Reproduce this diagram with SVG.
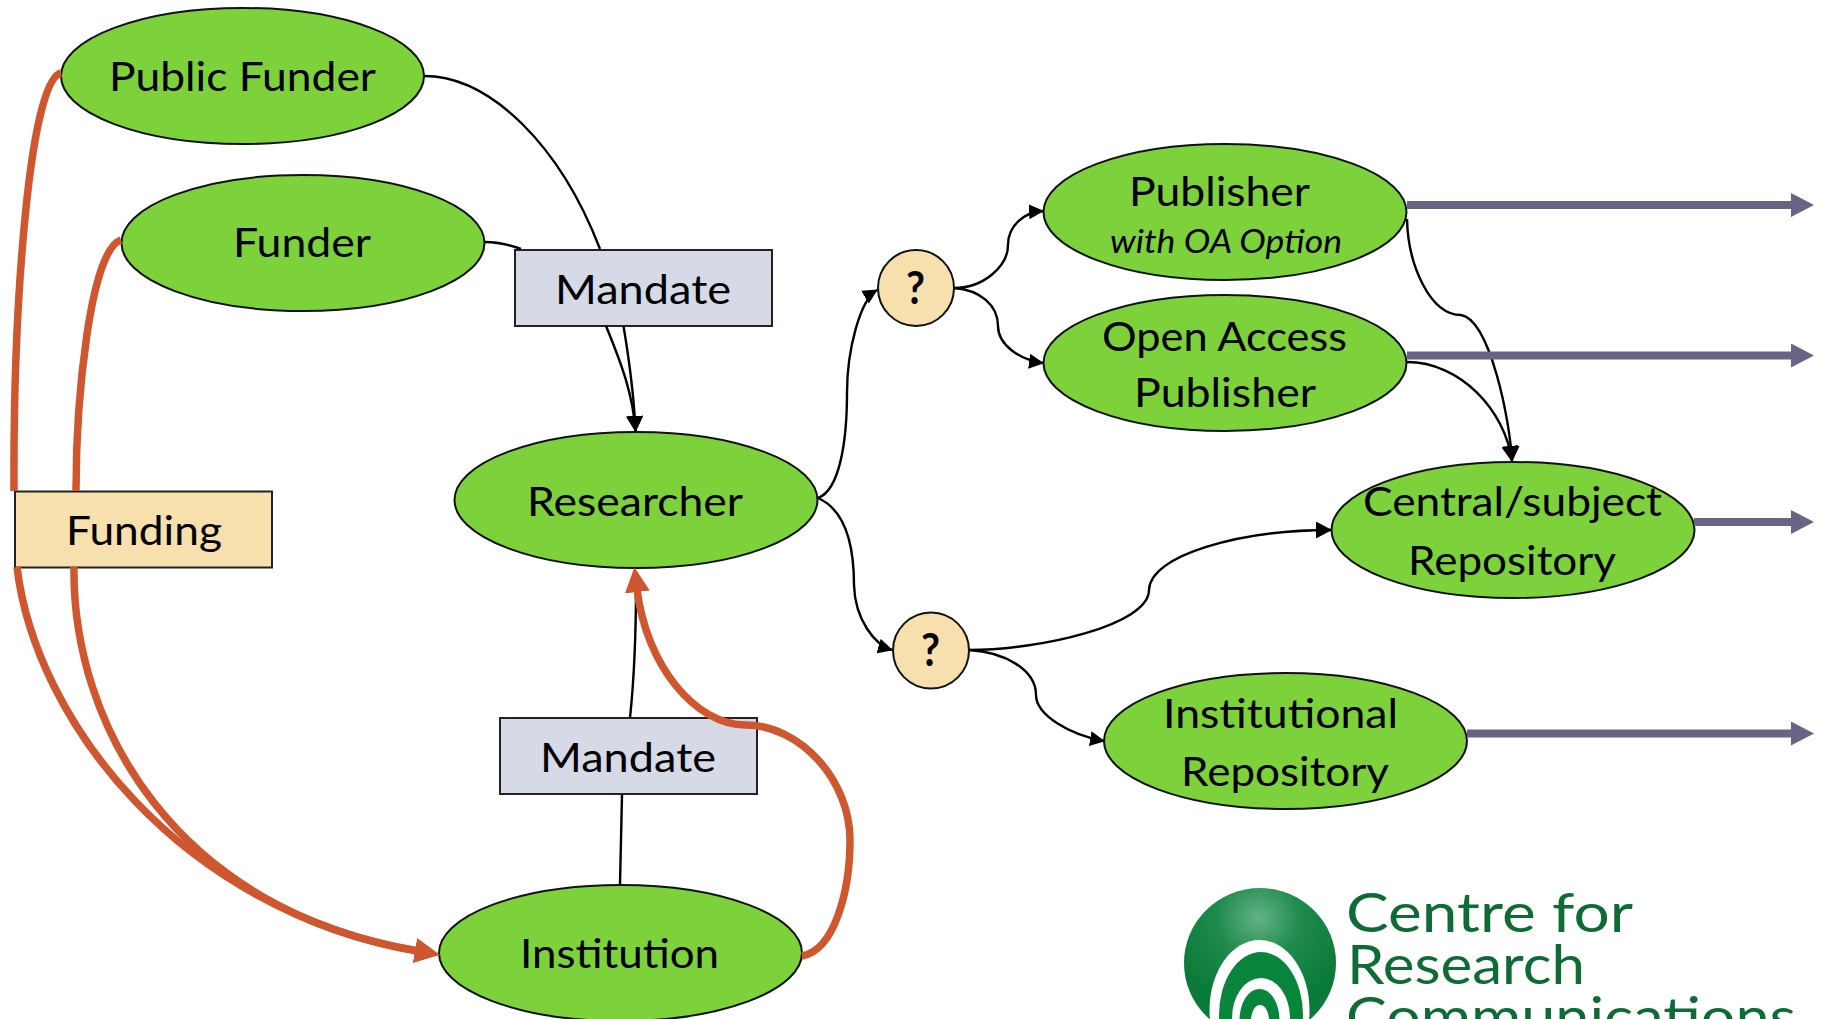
<svg xmlns="http://www.w3.org/2000/svg" width="1826" height="1019" viewBox="0 0 1826 1019">
<style>
.n{fill:#7dd13b;stroke:#111;stroke-width:2}
.m{fill:#d6dae6;stroke:#222;stroke-width:2}
.f{fill:#f8e0ae;stroke:#222;stroke-width:2}
.q{fill:#f8e0ae;stroke:#111;stroke-width:2}
text{font-family:Lato,"Open Sans",sans-serif;font-size:41px;fill:#000}
.l{fill:#0f6b35;font-size:55px}
.qt{font-size:46px;font-weight:700}
.b{fill:none;stroke:#000;stroke-width:2.4}
.o{fill:none;stroke:#cf5730;stroke-width:7.500}
.p{fill:none;stroke:#6b6384;stroke-width:8}
</style>
<defs>
<marker id="ab" markerUnits="userSpaceOnUse" markerWidth="17" markerHeight="17" refX="15" refY="8.500" orient="auto"><path d="M0 0L16 8.500L0 17z" fill="#000"/></marker>
<marker id="as" markerUnits="userSpaceOnUse" markerWidth="15" markerHeight="15" refX="14" refY="7.500" orient="auto"><path d="M0 0L15 7.500L0 15z" fill="#000"/></marker>
<marker id="ao" markerUnits="userSpaceOnUse" markerWidth="25" markerHeight="25" refX="3" refY="12.500" orient="auto"><path d="M0 0L25 12.500L0 25z" fill="#cf5730"/></marker>
<marker id="ap" markerUnits="userSpaceOnUse" markerWidth="24" markerHeight="24" refX="3" refY="12" orient="auto"><path d="M0 0L23 12L0 24z" fill="#6b6384"/></marker>
<radialGradient id="lg" cx="0.49" cy="0.2" r="0.62"><stop offset="0" stop-color="#62b384"/><stop offset="0.45" stop-color="#1f8a4c"/><stop offset="1" stop-color="#0a7a38"/></radialGradient>
</defs>
<g id="public-funder"><ellipse class="n" cx="242.500" cy="76" rx="181.500" ry="68"/><text x="109" y="91" textLength="267" lengthAdjust="spacingAndGlyphs">Public Funder</text></g>
<g id="funder"><ellipse class="n" cx="303" cy="243" rx="181.500" ry="68"/><text x="233" y="257" textLength="138" lengthAdjust="spacingAndGlyphs">Funder</text></g>
<g id="researcher"><ellipse class="n" cx="636" cy="500" rx="181.500" ry="68"/><text x="527" y="515.500" textLength="216" lengthAdjust="spacingAndGlyphs">Researcher</text></g>
<g id="institution"><ellipse class="n" cx="620.500" cy="953" rx="181.500" ry="68"/><text x="520" y="968" textLength="199" lengthAdjust="spacingAndGlyphs">Institution</text></g>
<g id="publisher-oa-option"><ellipse class="n" cx="1225" cy="212" rx="181.500" ry="68"/><text x="1129" y="206" textLength="181" lengthAdjust="spacingAndGlyphs">Publisher</text><text x="1110" y="253" textLength="232" lengthAdjust="spacingAndGlyphs" font-style="italic" style="font-size:32px">with OA Option</text></g>
<g id="open-access-publisher"><ellipse class="n" cx="1225" cy="363" rx="181.500" ry="68"/><text x="1102" y="351" textLength="245" lengthAdjust="spacingAndGlyphs">Open Access</text><text x="1134" y="407" textLength="182" lengthAdjust="spacingAndGlyphs">Publisher</text></g>
<g id="central-repository"><ellipse class="n" cx="1513" cy="530" rx="181.500" ry="68"/><text x="1363" y="516" textLength="299" lengthAdjust="spacingAndGlyphs">Central/subject</text><text x="1408" y="575" textLength="208" lengthAdjust="spacingAndGlyphs">Repository</text></g>
<g id="institutional-repository"><ellipse class="n" cx="1285.500" cy="741" rx="181.500" ry="68"/><text x="1163" y="728" textLength="235" lengthAdjust="spacingAndGlyphs">Institutional</text><text x="1181" y="786" textLength="208" lengthAdjust="spacingAndGlyphs">Repository</text></g>
<g id="choice-1"><ellipse class="q" cx="916" cy="288" rx="38" ry="38"/><text class="qt" x="906" y="304" textLength="19" lengthAdjust="spacingAndGlyphs">?</text></g>
<g id="choice-2"><ellipse class="q" cx="931" cy="650.500" rx="38" ry="38"/><text class="qt" x="921" y="666" textLength="19" lengthAdjust="spacingAndGlyphs">?</text></g>
<g id="mandate-1"><rect class="m" x="515" y="250" width="257" height="76"/><text x="555" y="303.500" textLength="176" lengthAdjust="spacingAndGlyphs">Mandate</text></g>
<g id="mandate-2"><rect class="m" x="500" y="718" width="257" height="76"/><text x="540" y="772" textLength="176" lengthAdjust="spacingAndGlyphs">Mandate</text></g>
<g id="funding"><rect class="f" x="15" y="491.500" width="257" height="76"/><text x="66" y="545" textLength="156" lengthAdjust="spacingAndGlyphs">Funding</text></g>
<g id="connectors">
<path class="b" d="M424 76C490 76 560 145 600 249"/>
<path class="b" d="M485 242C500 242 510 245 521 249"/>
<path class="b" marker-end="url(#ab)" d="M606 326C622 365 633 395 635.500 431"/>
<path class="b" marker-end="url(#ab)" d="M623.500 326C630 365 634 395 635.500 431"/>
<path class="b" d="M620 884L622 795"/>
<path class="b" d="M630 718C634 680 636 630 636 585"/>
<path class="b" marker-end="url(#as)" d="M818 498C840 490 847 440 847 393C847 350 860 300 877 290"/>
<path class="b" marker-end="url(#as)" d="M818 498C845 510 854 545 854 585C855 620 875 645 892 650"/>
<path class="b" marker-end="url(#as)" d="M954 288C985 288 1008 265 1008 245C1008 225 1025 212 1043 211"/>
<path class="b" marker-end="url(#as)" d="M954 288C980 290 998 305 998 326C998 345 1020 360 1043 363"/>
<path class="b" marker-end="url(#ab)" d="M969 650C1040 650 1149 625 1149 590C1150 555 1240 530 1331 530"/>
<path class="b" marker-end="url(#as)" d="M969 650C1005 652 1036 670 1036 695C1036 715 1070 735 1104 741"/>
<path class="b" marker-end="url(#ab)" d="M1407 219C1408 265 1430 315 1461 315C1490 320 1510 420 1512 461"/>
<path class="b" marker-end="url(#ab)" d="M1407 362C1460 362 1505 410 1512 461"/>
<path class="p" marker-end="url(#ap)" d="M1407 205H1794"/>
<path class="p" marker-end="url(#ap)" d="M1407 355.500H1794"/>
<path class="p" marker-end="url(#ap)" d="M1694 522H1794"/>
<path class="p" marker-end="url(#ap)" d="M1467 733.500H1794"/>
<path class="o" d="M61 73C30 80 13 300 14 491"/>
<path class="o" marker-end="url(#ao)" d="M17 567C35 720 180 910 418 951"/>
<path class="o" d="M121 240C90 250 76 400 76 491"/>
<path class="o" marker-end="url(#ao)" d="M74 567C72 725 175 910 418 951"/>
<path class="o" marker-end="url(#ao)" d="M802 956C835 950 850 890 850 840C850 780 800 725 746 725C695 725 646 665 637 589"/>
</g>
<g id="logo">
<ellipse cx="1260" cy="963" rx="76" ry="75" fill="url(#lg)"/>
<ellipse cx="1259.500" cy="1010" rx="50" ry="70" fill="#fff"/>
<ellipse cx="1261" cy="1015" rx="42" ry="63" fill="#08843c"/>
<ellipse cx="1261" cy="1018" rx="29" ry="40" fill="#fff"/>
<ellipse cx="1259.500" cy="1020" rx="20" ry="31" fill="#08843c"/>
<ellipse cx="1260" cy="1020" rx="9" ry="15" fill="#fff"/>
<text class="l" x="1346" y="932" textLength="287" lengthAdjust="spacingAndGlyphs">Centre for</text>
<text class="l" x="1347" y="984" textLength="238" lengthAdjust="spacingAndGlyphs">Research</text>
<text class="l" x="1346" y="1036" textLength="450" lengthAdjust="spacingAndGlyphs">Communications</text>
</g>
</svg>
